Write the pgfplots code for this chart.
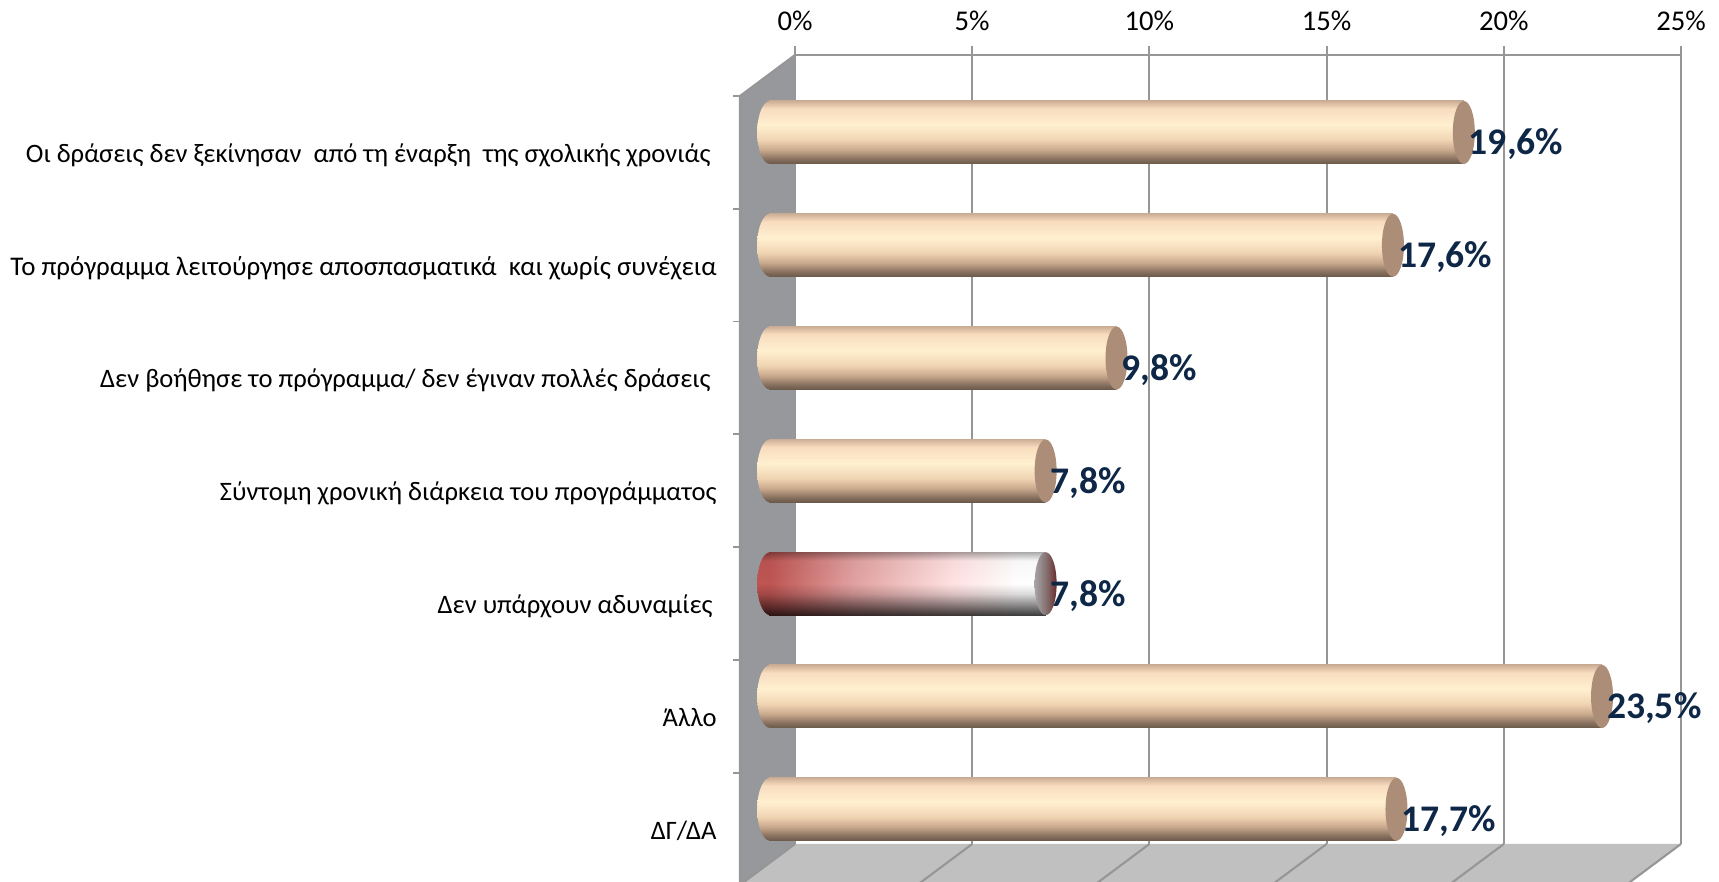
\documentclass[border=0pt]{standalone}
\usepackage{fontspec}
\setmainfont{Carlito}
\usepackage{pgfplots}
\pgfplotsset{compat=1.18}
\usetikzlibrary{fadings}
\definecolor{wallc}{HTML}{97989B}
\definecolor{floorc}{HTML}{C0C0C0}
\definecolor{gridc}{HTML}{969696}
\definecolor{capc}{HTML}{AC8E78}
\definecolor{valc}{HTML}{0F2747}
\pgfdeclareverticalshading{barshade}{100bp}{
 color(0bp)=(rgb,255:red,105;green,88;blue,74);
 color(25bp)=(rgb,255:red,105;green,88;blue,74);
 color(29bp)=(rgb,255:red,135;green,112;blue,94);
 color(36bp)=(rgb,255:red,200;green,168;blue,140);
 color(44bp)=(rgb,255:red,240;green,212;blue,178);
 color(56bp)=(rgb,255:red,255;green,240;blue,208);
 color(69bp)=(rgb,255:red,248;green,220;blue,190);
 color(75bp)=(rgb,255:red,205;green,175;blue,150);
 color(100bp)=(rgb,255:red,205;green,175;blue,150)}
\pgfdeclarehorizontalshading{redbody}{100bp}{
 color(0bp)=(rgb,255:red,190;green,85;blue,82);
 color(25bp)=(rgb,255:red,190;green,85;blue,82);
 color(40bp)=(rgb,255:red,225;green,160;blue,160);
 color(58bp)=(rgb,255:red,255;green,225;blue,225);
 color(70bp)=(rgb,255:red,255;green,255;blue,255);
 color(100bp)=(rgb,255:red,255;green,255;blue,255)}
\pgfdeclareverticalshading{redleft}{100bp}{
 color(0bp)=(rgb,255:red,42;green,19;blue,18);
 color(25bp)=(rgb,255:red,42;green,19;blue,18);
 color(33bp)=(rgb,255:red,99;green,44;blue,43);
 color(42bp)=(rgb,255:red,161;green,72;blue,70);
 color(50bp)=(rgb,255:red,190;green,85;blue,82);
 color(68bp)=(rgb,255:red,184;green,82;blue,80);
 color(75bp)=(rgb,255:red,124;green,55;blue,53);
 color(100bp)=(rgb,255:red,124;green,55;blue,53)}
\pgfdeclarehorizontalshading{redcapshade}{100bp}{
 color(0bp)=(rgb,255:red,165;green,165;blue,165);
 color(25bp)=(rgb,255:red,165;green,165;blue,165);
 color(50bp)=(rgb,255:red,135;green,115;blue,115);
 color(75bp)=(rgb,255:red,105;green,45;blue,45);
 color(100bp)=(rgb,255:red,105;green,45;blue,45)}
\pgfdeclareverticalshading{cylg}{100bp}{
 color(0bp)=(pgftransparent!22);
 color(25bp)=(pgftransparent!22);
 color(33bp)=(pgftransparent!52);
 color(42bp)=(pgftransparent!85);
 color(50bp)=(pgftransparent!100);
 color(68bp)=(pgftransparent!97);
 color(75bp)=(pgftransparent!65);
 color(100bp)=(pgftransparent!65)}
\pgfdeclarefading{cylf}{\pgfuseshading{cylg}}
\newcommand{\capellipse}{\pgfpathellipse{\pgfqpoint{0pt}{0pt}}{\pgfqpoint{5.5pt}{0pt}}{\pgfqpoint{0pt}{15.75pt}}}
\newcommand{\caphalf}{\pgfpathmoveto{\pgfqpoint{0.5pt}{15.75pt}}\pgfpatharc{90}{270}{6.5pt and 15.75pt}\pgfpathclose}
\pgfdeclareplotmark{capleft}{\caphalf\pgfshadepath{barshade}{0}\pgfusepath{discard}}
\pgfdeclareplotmark{capright}{\capellipse\pgfsetfillcolor{capc}\pgfusepath{fill}}
\pgfdeclareplotmark{redcapleft}{\caphalf\pgfshadepath{redleft}{0}\pgfusepath{discard}}
\pgfdeclareplotmark{redcapright}{\capellipse\pgfshadepath{redcapshade}{0}\pgfusepath{discard}}
\pgfplotsset{
 barbase/.style={xshift=-12.9pt,yshift=9.95pt,forget plot},
 valnodes/.style={nodes near coords={\pgfmathprintnumber[fixed,fixed zerofill,precision=1,use comma,assume math mode=true]{\pgfplotspointmeta}\%},
   point meta=x,
   every node near coord/.append style={anchor=west,inner sep=0pt,xshift=2.35pt,yshift=-6pt,
     font=\fontsize{18.8pt}{20pt}\selectfont\bfseries,text=valc}}
}
\newcommand{\cyl}[2]{%
 \addplot[barbase,only marks,mark=capleft] coordinates {(0,#2)};
 \addplot[barbase,xbar,bar shift=0pt,bar width=31.5pt,draw=none,shading=barshade] coordinates {(#1,#2)};
}
\newcommand{\pad}[1]{\hbox to #1{}}
\begin{document}
\begin{tikzpicture}
\useasboundingbox (0,0) rectangle (859.5pt,441pt);
\begin{axis}[
  at={(397.5pt,19pt)},anchor=south west,
  scale only axis,width=443pt,height=394.5pt,
  xmin=0,xmax=25,ymin=-0.1312,ymax=6.8635,
  clip=false,
  axis x line=top,axis y line=left,
  x axis line style={-,gridc,line width=1.05pt},
  y axis line style={-,draw=none},
  xtick={0,5,10,15,20,25},
  xticklabels={0\%,5\%,10\%,15\%,20\%,25\%},
  xtick style={gridc,line width=1.05pt},
  tick align=outside,major tick length=4.5pt,
  xmajorgrids,grid style={gridc,line width=1.05pt},
  xticklabel style={font=\fontsize{14.3pt}{16pt}\selectfont,inner sep=0pt,yshift=7.5pt},
  ytick={0,1,2,3,4,5,6},
  yticklabels={ΔΓ/ΔΑ,Άλλο,{Δεν υπάρχουν αδυναμίες\pad{2pt}},Σύντομη χρονική διάρκεια του προγράμματος,{Δεν βοήθησε το πρόγραμμα/ δεν έγιναν πολλές δράσεις\pad{3pt}},{\fontsize{13.47pt}{15pt}\selectfont Το πρόγραμμα λειτούργησε αποσπασματικά~ και χωρίς συνέχεια},{Οι δράσεις δεν ξεκίνησαν~ από τη έναρξη~ της σχολικής χρονιάς\pad{3pt}}},
  ytick style={draw=none},
  yticklabel style={font=\fontsize{13.3pt}{15pt}\selectfont,anchor=base east,inner sep=0pt,xshift=-34.5pt,yshift=-5pt},
]
% walls and floor
\fill[wallc] (axis cs:0,6.8635)--(axis cs:-1.552,6.5)--(axis cs:-1.552,-0.494)--(axis cs:0,-0.1312)--cycle;
\fill[floorc] (axis cs:0,-0.1312)--(axis cs:25,-0.1312)--(axis cs:23.448,-0.494)--(axis cs:-1.552,-0.494)--cycle;
\draw[gridc,line width=1.05pt] (axis cs:0,6.8635)--(axis cs:-1.552,6.5)--(axis cs:-1.552,-0.494);
\foreach \v in {0,5,10,15,20,25}{
  \edef\tmp{\noexpand\draw[gridc,line width=1.05pt] (axis cs:\v,-0.1312)--([xshift=-27.5pt,yshift=-20.5pt]axis cs:\v,-0.1312);}\tmp
}
\foreach \r in {-0.5,0.5,1.5,2.5,3.5,4.5,5.5,6.5}{
  \edef\tmp{\noexpand\draw[gridc,line width=0.9pt] (axis cs:-1.552,\r)--(axis cs:-1.75,\r);}\tmp
}
% cylinder bodies
\cyl{19.6}{6}
\cyl{17.6}{5}
\cyl{9.8}{4}
\cyl{7.8}{3}
\cyl{23.5}{1}
\cyl{17.7}{0}
\addplot[barbase,only marks,mark=redcapleft] coordinates {(0,2)};
\addplot[barbase,xbar,bar shift=0pt,bar width=31.5pt,draw=none,shading=redbody] coordinates {(7.8,2)};
\addplot[barbase,xbar,bar shift=0pt,bar width=32pt,draw=none,fill=black,path fading=cylf] coordinates {(7.8,2)};
% end caps with labels
\addplot[barbase,only marks,mark=capright,valnodes] coordinates {(19.6,6)(17.6,5)(9.8,4)(7.8,3)(23.5,1)(17.7,0)};
\addplot[barbase,only marks,mark=redcapright,valnodes] coordinates {(7.8,2)};
\end{axis}
\end{tikzpicture}
\end{document}
